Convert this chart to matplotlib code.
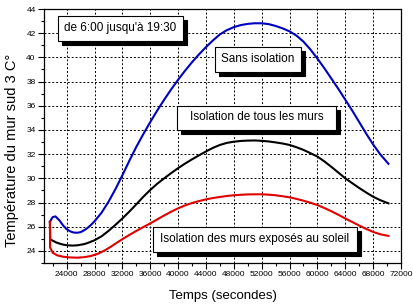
import numpy as np
import matplotlib
matplotlib.use('Agg')
import matplotlib.pyplot as plt
from matplotlib.patches import Rectangle
from matplotlib.ticker import MultipleLocator

plt.rcParams['font.family'] = ['Liberation Sans', 'DejaVu Sans']

# temps (s) et temperatures
t_sans = [21600, 22000, 22400, 23000, 23500, 24000, 24500, 25000, 25500, 26000,
          26500, 27000, 27500, 28000, 28500, 29000, 30000, 31000, 32000, 33000,
          34000, 35000, 36000, 37000, 38000, 39000, 40000, 41000, 42000, 43000,
          44000, 45000, 46000, 47000, 48000, 49000, 50000, 51000, 52000, 53000,
          54000, 55000, 56000, 57000, 58000, 59000, 60000, 61000, 62000, 63000,
          64000, 65000, 66000, 67000, 68000, 69000, 70200]
T_sans = [26.4, 26.8, 26.85, 26.5, 26.1, 25.8, 25.62, 25.52, 25.5, 25.55,
          25.7, 25.9, 26.15, 26.45, 26.8, 27.15, 28.05, 29.1, 30.25, 31.45,
          32.6, 33.65, 34.65, 35.6, 36.5, 37.35, 38.15, 38.9, 39.6, 40.25,
          40.85, 41.4, 41.9, 42.25, 42.5, 42.67, 42.77, 42.82, 42.82, 42.75,
          42.6, 42.4, 42.15, 41.8, 41.3, 40.65, 39.9, 39.1, 38.25, 37.4,
          36.5, 35.6, 34.65, 33.7, 32.8, 32.0, 31.2]

t_tous = [21600, 21650, 22000, 22500, 23000, 23500, 24000, 24800, 25500, 26500,
          27000, 28000, 29000, 30000, 31000, 32000, 33000, 34000, 35000, 36000,
          37000, 38000, 39000, 40000, 41000, 42000, 43000, 44000, 45000, 46000,
          47000, 48000, 49000, 50000, 51000, 52000, 53000, 54000, 55000, 56000,
          57000, 58000, 59000, 60000, 61000, 62000, 63000, 64000, 65000, 66000,
          67000, 68000, 69000, 70200]
T_tous = [26.4, 24.95, 24.85, 24.7, 24.6, 24.52, 24.47, 24.44, 24.46, 24.56,
          24.65, 24.88, 25.2, 25.65, 26.15, 26.68, 27.25, 27.85, 28.47, 29.04,
          29.55, 30.0, 30.43, 30.84, 31.22, 31.57, 31.9, 32.22, 32.52, 32.76,
          32.93, 33.03, 33.09, 33.12, 33.13, 33.1, 33.05, 32.97, 32.88, 32.76,
          32.57, 32.35, 32.08, 31.8, 31.4, 30.95, 30.48, 30.0, 29.6, 29.2,
          28.83, 28.48, 28.2, 27.93]

t_soleil = [21600, 21620, 22000, 22650, 23500, 24500, 25500, 26500, 27500, 28500,
            29500, 30300, 31000, 32000, 33000, 34000, 35000, 36000, 37000, 38000,
            39000, 40000, 41000, 42000, 43000, 44000, 45000, 46000, 47000, 48000,
            49000, 50000, 51000, 52000, 53000, 54000, 55000, 56000, 57000, 58000,
            59000, 60000, 61000, 62000, 63000, 64000, 65000, 66000, 67000, 68000,
            69000, 70200]
T_soleil = [26.4, 24.3, 23.85, 23.63, 23.52, 23.46, 23.44, 23.48, 23.58, 23.77,
            24.05, 24.33, 24.6, 24.97, 25.32, 25.65, 25.97, 26.27, 26.6, 26.93,
            27.24, 27.52, 27.76, 27.96, 28.12, 28.26, 28.37, 28.46, 28.54, 28.6,
            28.64, 28.67, 28.68, 28.68, 28.65, 28.6, 28.52, 28.43, 28.3, 28.15,
            27.98, 27.79, 27.55, 27.28, 26.99, 26.68, 26.39, 26.1, 25.82, 25.57,
            25.38, 25.24]

fig = plt.figure(figsize=(4.13, 3.07), dpi=100)
ax = fig.add_axes([44/413, 1-263/307, (401-44)/413, (263-9)/307])

ax.plot(t_sans, T_sans, color='#0000c0', lw=1.5)
ax.plot(t_tous, T_tous, color='black', lw=1.5)
ax.plot(t_soleil, T_soleil, color='#e00000', lw=1.5)

ax.set_xlim(20750, 72000)
ax.set_ylim(23, 44)
ax.set_xticks(np.arange(24000, 72001, 4000))
ax.xaxis.set_minor_locator(MultipleLocator(2000))
ax.set_yticks(np.arange(24, 45, 2))
ax.yaxis.set_minor_locator(MultipleLocator(1))
ax.tick_params(which='major', direction='out', length=4, width=0.8, labelsize=6, pad=2)
ax.tick_params(which='minor', direction='out', length=2, width=0.8)
ax.grid(True, which='major', color='black', linestyle=(0, (2, 2)), lw=0.7)
for s in ax.spines.values():
    s.set_linewidth(0.9)

fig.text(223/413, 1-296/307, 'Temps (secondes)', ha='center', va='center', fontsize=9.5)
fig.text(12/413, 1-150/307, 'Température du mur sud 3 C°', ha='center', va='center',
         rotation=90, fontsize=10.5)

# cadres des legendes (coordonnees en pixels)
ov = fig.add_axes([0, 0, 1, 1])
ov.set_xlim(0, 413)
ov.set_ylim(307, 0)
ov.axis('off')

def boite(x0, y0, x1, y1, texte):
    ov.add_patch(Rectangle((x0+4, y0+4), x1-x0, y1-y0, facecolor='black', edgecolor='black', lw=0.8))
    ov.add_patch(Rectangle((x0, y0), x1-x0, y1-y0, facecolor='white', edgecolor='black', lw=0.8))
    ov.text((x0+x1)/2, (y0+y1)/2, texte, ha='center', va='center', fontsize=8.5)

boite(58, 16, 183, 40.5, "de 6:00 jusqu'à 19:30")
boite(215, 47, 300.5, 71.5, "Sans isolation")
boite(177, 105.5, 336, 129.5, "Isolation de tous les murs")
boite(153, 227, 356.5, 251.5, "Isolation des murs exposés au soleil")

plt.savefig('out.png', dpi=100)
